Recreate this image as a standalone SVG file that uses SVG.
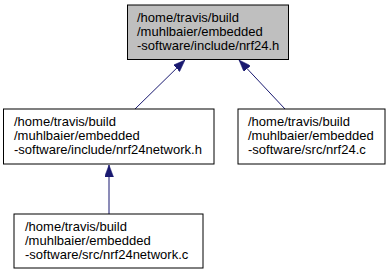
<svg xmlns="http://www.w3.org/2000/svg" width="391" height="275" viewBox="0 0 391 275">
  <style>
    .box { fill: #ffffff; stroke: #000000; stroke-width: 1; }
    .box.root { fill: #bfbfbf; }
    .label { font-family: "Liberation Sans", Arial, Helvetica, sans-serif; font-size: 13px; fill: #000000; }
    .edge { fill: none; stroke: #191970; stroke-width: 1; marker-end: url(#arrow); }
  </style>
  <defs>
    <marker id="arrow" markerUnits="userSpaceOnUse" markerWidth="12" markerHeight="9" refX="12" refY="4.5" orient="auto">
      <path d="M0,0 L12,4.5 L0,9 z" fill="#191970" stroke="#191970" stroke-width="0.5"/>
    </marker>
  </defs>

  <rect width="391" height="275" fill="#ffffff"/>

  <!-- include dependency edges -->
  <g id="edges">
    <path class="edge" d="M135,109 L185,60"/>
    <path class="edge" d="M285,109 L239,60"/>
    <path class="edge" d="M109,214 L109,165"/>
  </g>

  <g id="node-nrf24-h">
    <rect class="box root" x="127.5" y="5" width="161" height="54.5"/>
    <text class="label" x="137" y="22">/home/travis/build</text>
    <text class="label" x="137" y="36">/muhlbaier/embedded</text>
    <text class="label" x="137" y="50">-software/include/nrf24.h</text>
  </g>

  <g id="node-nrf24network-h">
    <rect class="box" x="3.5" y="109" width="210.5" height="55"/>
    <text class="label" x="14" y="125.5">/home/travis/build</text>
    <text class="label" x="14" y="139.5">/muhlbaier/embedded</text>
    <text class="label" x="14" y="153.5">-software/include/nrf24network.h</text>
  </g>

  <g id="node-nrf24-c">
    <rect class="box" x="238" y="109" width="147" height="55"/>
    <text class="label" x="248" y="125.5">/home/travis/build</text>
    <text class="label" x="248" y="139.5">/muhlbaier/embedded</text>
    <text class="label" x="248" y="153.5">-software/src/nrf24.c</text>
  </g>

  <g id="node-nrf24network-c">
    <rect class="box" x="14" y="214" width="189" height="54"/>
    <text class="label" x="25" y="231">/home/travis/build</text>
    <text class="label" x="25" y="245">/muhlbaier/embedded</text>
    <text class="label" x="25" y="259">-software/src/nrf24network.c</text>
  </g>
</svg>
